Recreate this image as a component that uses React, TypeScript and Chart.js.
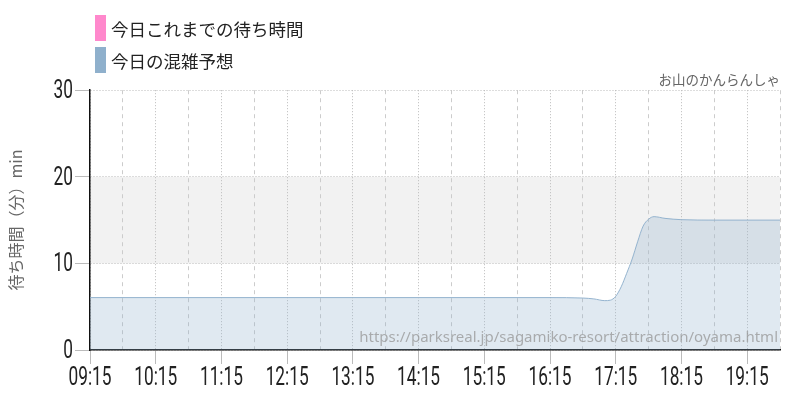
import React, { useEffect, useRef } from "react";
import { Chart, registerables } from "chart.js";

Chart.register(...registerables);

// ---- data ----
const SERIES_LABELS = ["今日これまでの待ち時間", "今日の混雑予想"];
const SERIES_COLORS = ["#ff88cc", "#8fb0cc"];
const ACTUAL_TIMES: string[] = [];
const ACTUAL_VALUES: number[] = [];
const FORECAST_TIMES = [
  "09:15", "10:15", "11:15", "12:15", "13:15", "14:15", "15:15", "16:15",
  "16:45", "16:55", "17:05", "17:10", "17:15", "17:20", "17:25", "17:30",
  "17:35", "17:40", "17:45", "17:50", "18:00", "18:15", "18:45", "19:15", "19:45",
];
const FORECAST_VALUES = [
  6.05, 6.05, 6.05, 6.05, 6.05, 6.05, 6.05, 6.05,
  6.0, 5.9, 5.7, 5.75, 6.2, 7.3, 8.85, 10.5,
  12.5, 14.3, 15.1, 15.4, 15.2, 15.05, 15.0, 15.0, 15.0,
];
const X_START = "09:15";
const X_END = "19:45";
const X_STEP_MIN = 30;
const Y_MIN = 0;
const Y_MAX = 30;
const Y_STEP = 10;
const BAND = [10, 20];
const TITLE = "お山のかんらんしゃ";
const Y_TITLE = "待ち時間（分）min";
const WATERMARK = "https://parksreal.jp/sagamiko-resort/attraction/oyama.html";

const toMin = (s: string) => {
  const [h, m] = s.split(":").map(Number);
  return h * 60 + m;
};
const fmt = (v: number) => {
  const h = Math.floor(v / 60);
  const m = v % 60;
  return String(h).padStart(2, "0") + ":" + String(m).padStart(2, "0");
};
const xMin = toMin(X_START);
const xMax = toMin(X_END);
const isHour = (v: number) => (v - xMin) % 60 === 0;

const CJK = "'Noto Sans CJK JP', 'Noto Sans', sans-serif";
const TICK_FONT = "25px Roboto, 'Liberation Sans', sans-serif";
const SQUEEZE = 0.69;

const bandPlugin = {
  id: "band",
  beforeDraw(chart: any) {
    const { ctx, chartArea, scales } = chart;
    const y = scales.y;
    const top = y.getPixelForValue(BAND[1]);
    const bot = y.getPixelForValue(BAND[0]);
    ctx.save();
    ctx.fillStyle = "#f2f2f2";
    ctx.fillRect(chartArea.left, top, chartArea.right - chartArea.left, bot - top);
    ctx.restore();
  },
};

// draws tick labels in a condensed form (horizontal squeeze)
const condensedTicksPlugin = {
  id: "condensedTicks",
  afterDraw(chart: any) {
    const { ctx, scales } = chart;
    ctx.save();
    ctx.font = TICK_FONT;
    ctx.fillStyle = "#222";
    ctx.textBaseline = "alphabetic";
    const x = scales.x;
    x.ticks.forEach((t: any) => {
      if (!t.label) return;
      const px = x.getPixelForValue(t.value);
      ctx.save();
      ctx.translate(px, x.bottom - 15.5);
      ctx.scale(SQUEEZE, 1);
      ctx.textAlign = "center";
      ctx.fillText(String(t.label), 0, 0);
      ctx.restore();
    });
    const y = scales.y;
    y.ticks.forEach((t: any) => {
      const py = y.getPixelForValue(t.value);
      ctx.save();
      ctx.translate(y.right - 17, py + 8);
      ctx.scale(SQUEEZE, 1);
      ctx.textAlign = "right";
      ctx.fillText(String(t.label), 0, 0);
      ctx.restore();
    });
    ctx.restore();
  },
};

const legendPlugin = {
  id: "customLegend",
  afterDraw(chart: any) {
    const { ctx } = chart;
    ctx.save();
    chart.data.datasets.forEach((ds: any, i: number) => {
      const top = 15 + i * 32;
      ctx.fillStyle = SERIES_COLORS[i];
      ctx.fillRect(95, top, 11, 26);
      ctx.fillStyle = "#222";
      ctx.font = `17.5px ${CJK}`;
      ctx.textBaseline = "middle";
      ctx.textAlign = "left";
      ctx.fillText(ds.label, 111, top + 14);
    });
    ctx.restore();
  },
};

const watermarkPlugin = {
  id: "watermark",
  afterDatasetsDraw(chart: any) {
    const { ctx, chartArea } = chart;
    ctx.save();
    ctx.fillStyle = "rgba(150,150,150,0.75)";
    ctx.font = `15px 'Noto Sans', sans-serif`;
    ctx.textAlign = "right";
    ctx.textBaseline = "alphabetic";
    ctx.fillText(WATERMARK, chartArea.right - 2, chartArea.bottom - 8);
    ctx.restore();
  },
};

export default function App() {
  const ref = useRef<HTMLCanvasElement>(null);
  useEffect(() => {
    document.body.style.margin = "0";
    const chart = new Chart(ref.current!, {
      type: "line",
      data: {
        datasets: [
          {
            label: SERIES_LABELS[0],
            data: ACTUAL_TIMES.map((t, i) => ({ x: toMin(t), y: ACTUAL_VALUES[i] })),
            borderColor: SERIES_COLORS[0],
            backgroundColor: SERIES_COLORS[0],
            pointRadius: 0,
          },
          {
            label: SERIES_LABELS[1],
            data: FORECAST_TIMES.map((t, i) => ({ x: toMin(t), y: FORECAST_VALUES[i] })),
            borderColor: "rgba(143,176,204,0.95)",
            backgroundColor: "rgba(143,176,204,0.28)",
            borderWidth: 1,
            fill: "origin",
            pointRadius: 0,
            cubicInterpolationMode: "monotone",
          },
        ],
      },
      options: {
        animation: false,
        responsive: true,
        maintainAspectRatio: false,
        layout: { padding: { top: 72, right: 20, left: 0, bottom: 0 } },
        plugins: {
          legend: { display: false },
          tooltip: { enabled: false },
          title: {
            display: true,
            text: TITLE,
            align: "end",
            color: "#666",
            font: { family: CJK, size: 13.5, weight: "normal" },
            padding: { top: 0, bottom: 2 },
          },
        },
        scales: {
          x: {
            type: "linear",
            min: xMin,
            max: xMax,
            afterFit: (s: any) => {
              s.height = 50;
            },
            ticks: {
              display: false,
              stepSize: X_STEP_MIN,
              autoSkip: false,
              maxRotation: 0,
              callback: (v: any) => (isHour(Number(v)) ? fmt(Number(v)) : ""),
            },
            grid: {
              color: (c: any) => (isHour(c.tick?.value) ? "#bbb" : "#ccc"),
              tickColor: (c: any) => (isHour(c.tick?.value) ? "#bbb" : "rgba(0,0,0,0)"),
              tickLength: 14,
              lineWidth: 1,
            },
            border: {
              display: true,
              color: "#111",
              width: 1.5,
              dash: (c: any) => (isHour(c.tick?.value) ? [1, 2] : [4, 4]),
            },
          },
          y: {
            min: Y_MIN,
            max: Y_MAX,
            afterFit: (s: any) => {
              s.width = 90;
            },
            ticks: {
              display: false,
              stepSize: Y_STEP,
            },
            grid: {
              color: "#bbb",
              tickColor: "#bbb",
              tickLength: 15,
              tickBorderDash: [],
            },
            border: { display: true, color: "#111", width: 1.5, dash: [1, 2] },
            title: {
              display: true,
              text: Y_TITLE,
              color: "#666",
              font: { family: CJK, size: 16 },
              padding: { top: 6, bottom: 0 },
            },
          },
        },
      },
      plugins: [bandPlugin, legendPlugin, watermarkPlugin, condensedTicksPlugin],
    } as any);
    return () => chart.destroy();
  }, []);
  return (
    <div style={{ position: "absolute", left: 0, top: 0, width: 800, height: 400 }}>
      <canvas ref={ref} />
    </div>
  );
}
